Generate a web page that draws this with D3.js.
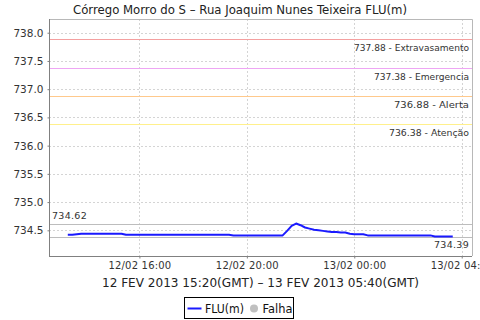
<!DOCTYPE html>
<html>
<head>
<meta charset="utf-8">
<script src="https://cdnjs.cloudflare.com/ajax/libs/d3/7.8.5/d3.min.js"></script>
<style>
  body { margin: 0; background: #fff; }
  svg { display: block; font-family: "DejaVu Sans", sans-serif; }
</style>
</head>
<body>
<div id="chart"></div>
<script>
// readings every 10 min, local time 12/02 13:20 -> 13/02 03:40
const startTime = new Date(2013, 1, 12, 13, 20);
const stepMinutes = 10;
const levels = [
  734.42, 734.42, 734.43, 734.44, 734.44, 734.44, 734.44, 734.44, 734.44, 734.44,
  734.44, 734.44, 734.44, 734.42, 734.42, 734.42, 734.42, 734.42, 734.42, 734.42,
  734.42, 734.42, 734.42, 734.42, 734.42, 734.42, 734.42, 734.42, 734.42, 734.42,
  734.42, 734.42, 734.42, 734.42, 734.42, 734.42, 734.42, 734.41, 734.41, 734.41,
  734.41, 734.41, 734.41, 734.41, 734.41, 734.41, 734.41, 734.41, 734.41, 734.49,
  734.58, 734.62, 734.59, 734.55, 734.53, 734.51, 734.50, 734.49, 734.48, 734.47,
  734.47, 734.46, 734.46, 734.44, 734.43, 734.43, 734.43, 734.41, 734.41, 734.41,
  734.41, 734.41, 734.41, 734.41, 734.41, 734.41, 734.41, 734.41, 734.41, 734.41,
  734.41, 734.41, 734.39, 734.39, 734.39, 734.39, 734.39
];

const thresholdValues = [737.88, 737.38, 736.88, 736.38];
const thresholdNames = ["Extravasamento", "Emergencia", "Alerta", "Atenção"];
const thresholdColors = ["#f4a0a0", "#eea6f4", "#ffc98c", "#fff08c"];

const yTicks = [734.5, 735.0, 735.5, 736.0, 736.5, 737.0, 737.5, 738.0];
const xTicks = [new Date(2013, 1, 12, 16), new Date(2013, 1, 12, 20),
                new Date(2013, 1, 13, 0), new Date(2013, 1, 13, 4)];

const title = "Córrego Morro do S – Rua Joaquim Nunes Teixeira FLU(m)";
const xLabel = "12 FEV 2013 15:20(GMT) – 13 FEV 2013 05:40(GMT)";

const data = levels.map((v, i) => ({
  t: new Date(startTime.getTime() + i * stepMinutes * 60000),
  v: v
}));

const W = 480, H = 320;
const plot = { left: 49, right: 472, top: 19, bottom: 256 };

const svg = d3.select("#chart").append("svg")
  .attr("width", W)
  .attr("height", H);

const x = d3.scaleTime()
  .domain([new Date(2013, 1, 12, 12, 38), new Date(2013, 1, 13, 4, 23)])
  .range([plot.left, plot.right]);

const y = d3.scaleLinear()
  .domain([734.045, 738.243])
  .range([plot.bottom, plot.top]);

// title
svg.append("text")
  .attr("x", 240)
  .attr("y", 14)
  .attr("text-anchor", "middle")
  .attr("font-size", 12.5)
  .attr("textLength", 334)
  .attr("lengthAdjust", "spacingAndGlyphs")
  .attr("fill", "#222")
  .text(title);

// grid
const grid = svg.append("g")
  .attr("stroke", "#d4d4d4")
  .attr("stroke-dasharray", "2,2")
  .attr("stroke-width", 1);

grid.selectAll("line.gy")
  .data(yTicks)
  .join("line")
  .attr("class", "gy")
  .attr("x1", plot.left)
  .attr("x2", plot.right)
  .attr("y1", d => Math.round(y(d)) + 0.5)
  .attr("y2", d => Math.round(y(d)) + 0.5);

grid.selectAll("line.gx")
  .data(xTicks)
  .join("line")
  .attr("class", "gx")
  .attr("x1", d => Math.round(x(d)) + 0.5)
  .attr("x2", d => Math.round(x(d)) + 0.5)
  .attr("y1", plot.top)
  .attr("y2", plot.bottom);

// plot outline (top / right)
svg.append("path")
  .attr("d", `M${plot.left},${plot.top + 0.5}H${plot.right + 0.5}V${plot.bottom}`)
  .attr("fill", "none")
  .attr("stroke", "#b8b8b8");

// threshold markers
const th = svg.append("g");
thresholdValues.forEach((v, i) => {
  const yy = Math.round(y(v)) + 0.5;
  const label = `${v.toFixed(2)} - ${thresholdNames[i]}`;
  th.append("line")
    .attr("x1", plot.left)
    .attr("x2", plot.right)
    .attr("y1", yy)
    .attr("y2", yy)
    .attr("stroke", thresholdColors[i])
    .attr("stroke-width", 1.2);
  th.append("text")
    .attr("x", plot.right - 3)
    .attr("y", yy + 11)
    .attr("text-anchor", "end")
    .attr("font-size", 9.5)
    .attr("textLength", label.length * 5)
    .attr("lengthAdjust", "spacingAndGlyphs")
    .attr("fill", "#333")
    .text(label);
});

// max / min markers
const maxV = d3.max(levels), minV = d3.min(levels);
[maxV, minV].forEach(v => {
  const yy = Math.round(y(v)) + 0.5;
  svg.append("line")
    .attr("x1", plot.left)
    .attr("x2", plot.right)
    .attr("y1", yy)
    .attr("y2", yy)
    .attr("stroke", "#bdbdbd")
    .attr("stroke-width", 1);
});
svg.append("text")
  .attr("x", plot.left + 3)
  .attr("y", Math.round(y(maxV)) - 5)
  .attr("font-size", 9.5)
  .attr("letter-spacing", 0.3)
  .attr("fill", "#333")
  .text(maxV.toFixed(2));
svg.append("text")
  .attr("x", plot.right - 3)
  .attr("y", Math.round(y(minV)) + 11)
  .attr("text-anchor", "end")
  .attr("font-size", 9.5)
  .attr("letter-spacing", 0.3)
  .attr("fill", "#333")
  .text(minV.toFixed(2));

// series
const line = d3.line()
  .x(d => x(d.t))
  .y(d => y(d.v));

svg.append("path")
  .datum(data)
  .attr("d", line)
  .attr("fill", "none")
  .attr("stroke", "#1a1aff")
  .attr("stroke-width", 2)
  .attr("stroke-linejoin", "round");

// axes
const yAxis = d3.axisLeft(y)
  .tickValues(yTicks)
  .tickFormat(d3.format(".1f"))
  .tickSize(2)
  .tickPadding(4);

const gy = svg.append("g")
  .attr("transform", `translate(${plot.left + 0.5},0)`)
  .call(yAxis);
gy.select(".domain").attr("stroke", "#808080").attr("d", `M0,${plot.top}V${plot.bottom}`);
gy.selectAll(".tick line").attr("stroke", "#808080");
gy.selectAll(".tick text").attr("font-size", 10.5).attr("fill", "#333")
  .attr("font-family", "DejaVu Sans");

const xAxis = d3.axisBottom(x)
  .tickValues(xTicks)
  .tickFormat(d3.timeFormat("%d/%m %H:%M"))
  .tickSize(2)
  .tickPadding(3);

const gx = svg.append("g")
  .attr("transform", `translate(0,${plot.bottom + 0.5})`)
  .call(xAxis);
gx.select(".domain").attr("stroke", "#808080").attr("d", `M${plot.left},0H${plot.right}`);
gx.selectAll(".tick line").attr("stroke", "#808080");
gx.selectAll(".tick text").attr("font-size", 10).attr("fill", "#333")
  .attr("letter-spacing", 0.2)
  .attr("font-family", "DejaVu Sans");

svg.append("text")
  .attr("x", (plot.left + plot.right) / 2)
  .attr("y", 287)
  .attr("text-anchor", "middle")
  .attr("font-size", 12.5)
  .attr("textLength", 317)
  .attr("lengthAdjust", "spacingAndGlyphs")
  .attr("fill", "#222")
  .text(xLabel);

// legend
const lg = svg.append("g").attr("transform", "translate(184.5,297.5)");
lg.append("rect")
  .attr("width", 109)
  .attr("height", 21)
  .attr("fill", "#fff")
  .attr("stroke", "#000");
lg.append("line")
  .attr("x1", 3).attr("x2", 17)
  .attr("y1", 11).attr("y2", 11)
  .attr("stroke", "#1a1aff")
  .attr("stroke-width", 2);
lg.append("text")
  .attr("x", 20.5)
  .attr("y", 15)
  .attr("font-size", 11.5)
  .attr("textLength", 39)
  .attr("lengthAdjust", "spacingAndGlyphs")
  .attr("fill", "#111")
  .text("FLU(m)");
lg.append("circle")
  .attr("cx", 69.5)
  .attr("cy", 11)
  .attr("r", 4)
  .attr("fill", "#c0c0c0");
lg.append("text")
  .attr("x", 78)
  .attr("y", 15)
  .attr("font-size", 11.5)
  .attr("textLength", 30)
  .attr("lengthAdjust", "spacingAndGlyphs")
  .attr("fill", "#111")
  .text("Falha");
</script>
</body>
</html>
